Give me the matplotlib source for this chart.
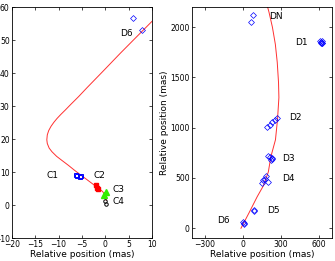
import matplotlib
matplotlib.use('Agg')
import matplotlib.pyplot as plt
import numpy as np

plt.rc('font', family='DejaVu Sans', size=6)

# left panel: path and core components (mas)
path_l_x = [0.2, 0.0, -0.6, -1.8, -3.4, -5.0, -6.5, -7.9, -9.3, -10.4, -11.4,
            -12.0, -12.4, -12.5, -12.4, -12.1, -11.6, -11.0, -10.3, -9.5,
            -8.5, -7.4, -5.7, -3.9, -0.4, 3.2, 8.1, 10.0]
path_l_y = [1.5, 3.0, 4.2, 5.5, 7.2, 8.9, 10.5, 12.1, 13.6, 14.8, 16.2,
            17.3, 18.7, 19.8, 21.3, 22.6, 23.9, 25.1, 26.3, 27.5,
            28.9, 30.5, 32.9, 35.6, 40.7, 46.0, 53.0, 55.7]
c1_x = [-6.3, -6.0, -5.4, -5.2]
c1_y = [9.1, 9.0, 8.7, 9.0]
c2_x = [-1.9, -1.7, -1.5]
c2_y = [6.0, 5.3, 5.0]
c3_x = [0.1, -0.2]
c3_y = [3.9, 3.1]
c4_x = [0.1, 0.0]
c4_y = [0.5, 1.2]
d6l_x = [5.9, 7.9]
d6l_y = [56.6, 53.0]
labels_l = ["D6", "C1", "C2", "C3", "C4"]
labels_l_xy = [(4.6, 52.0), (-11.3, 8.9), (-1.2, 8.9), (2.8, 4.8), (2.8, 1.2)]

# right panel: path and jet components (mas)
path_r_x = [-15, 47, 113, 160, 200, 220, 256, 272, 283, 280, 270, 255, 232, 205, 192]
path_r_y = [0, 150, 315, 420, 560, 712, 880, 1080, 1300, 1450, 1650, 1830, 2000, 2150, 2210]
dn_x = [80, 65]
dn_y = [2120, 2055]
d1_x = [605, 612, 618, 620, 625, 610]
d1_y = [1865, 1850, 1845, 1858, 1840, 1838]
d2_x = [190, 210, 230, 250, 265]
d2_y = [1010, 1030, 1055, 1080, 1095]
d3_x = [200, 215, 225, 230, 220]
d3_y = [720, 705, 700, 690, 680]
d4_x = [160, 185, 150, 200, 175]
d4_y = [480, 520, 450, 460, 490]
d5_x = [85, 90]
d5_y = [180, 170]
d6r_x = [0, 5, 10]
d6r_y = [60, 45, 50]
labels_r = ["DN", "D1", "D2", "D3", "D4", "D5", "D6"]
labels_r_xy = [(259, 2106), (457, 1847), (409, 1104), (354, 697),
               (354, 490), (238, 175), (-150, 76)]

fig = plt.figure(figsize=(3.35, 2.61), dpi=100)
ax1 = fig.add_axes([0.035, 0.087, 0.419, 0.886])
ax2 = fig.add_axes([0.573, 0.087, 0.418, 0.886])

ax1.plot(path_l_x, path_l_y, color='#ff3030', lw=0.7)
ax1.plot(c1_x, c1_y, 's', mfc='none', mec='b', ms=3, mew=0.7)
ax1.plot(c2_x, c2_y, 's', color='r', ms=3.5)
ax1.plot(c3_x, c3_y, '^', color='#33ee00', ms=4)
ax1.plot(c4_x, c4_y, 'o', mfc='none', mec='k', ms=2.5, mew=0.7)
ax1.plot(d6l_x, d6l_y, 'D', mfc='none', mec='b', ms=3, mew=0.5)
for s, (x, y) in zip(labels_l, labels_l_xy):
    ax1.text(x, y, s, ha='center', va='center', fontsize=6.5)
ax1.set_xlim(-20, 10)
ax1.set_ylim(-10, 60)
ax1.set_xticks(np.arange(-20, 11, 5))
ax1.set_yticks(np.arange(-10, 61, 10))
ax1.set_xlabel("Relative position (mas)", fontsize=6.5, labelpad=0.5)

ax2.plot(path_r_x, path_r_y, color='#ff3030', lw=0.7)
for xs, ys in [(dn_x, dn_y), (d1_x, d1_y), (d2_x, d2_y), (d3_x, d3_y),
               (d4_x, d4_y), (d5_x, d5_y), (d6r_x, d6r_y)]:
    ax2.plot(xs, ys, 'D', mfc='none', mec='b', ms=3, mew=0.5)
for s, (x, y) in zip(labels_r, labels_r_xy):
    ax2.text(x, y, s, ha='center', va='center', fontsize=6.5)
ax2.set_xlim(-400, 700)
ax2.set_ylim(-100, 2200)
ax2.set_xticks([-300, 0, 300, 600])
ax2.set_yticks([0, 500, 1000, 1500, 2000])
ax2.set_xlabel("Relative position (mas)", fontsize=6.5, labelpad=0.5)
ax2.set_ylabel("Relative position (mas)", fontsize=6.5, labelpad=1)

for ax in (ax1, ax2):
    ax.tick_params(direction='in', top=True, right=True, length=2,
                   width=0.5, labelsize=5.5, pad=1.5)
    for sp in ax.spines.values():
        sp.set_linewidth(0.6)

fig.savefig("out.png", dpi=100)
